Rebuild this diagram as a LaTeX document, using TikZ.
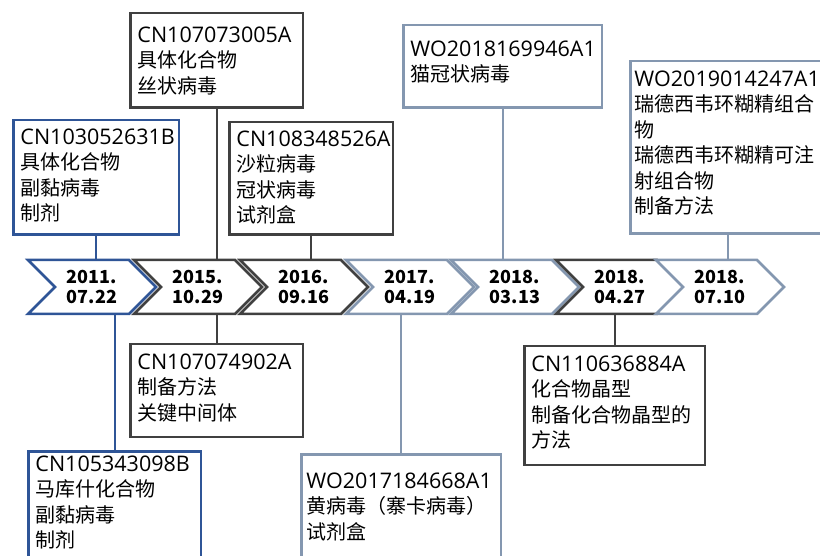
\documentclass[tikz,border=0pt]{standalone}
\usepackage{fontspec}
\newfontfamily\cjk{Noto Sans CJK SC}
\newfontfamily\lat{Open Sans}
\newcommand\pno[1]{{\lat\fontsize{21.5}{25.5}\selectfont #1}}
\usetikzlibrary{shapes.symbols}
\definecolor{pblue}{RGB}{47,85,151}
\definecolor{pdark}{RGB}{64,64,64}
\definecolor{plight}{RGB}{132,151,176}
\begin{document}
\begin{tikzpicture}[x=1pt,y=-1pt,
    chev/.style={signal,signal from=west,signal to=east,signal pointer angle=90,draw=#1,fill=white,line width=2.5pt,minimum width=128pt,minimum height=54pt,inner sep=0pt,align=center,font=\cjk\bfseries\fontsize{18}{20}\selectfont},
    pbox/.style={draw=#1,fill=white,line width=2.5pt,outer sep=0pt,anchor=north west,inner sep=0pt},
    ptxt/.style={anchor=north west,align=left,inner sep=0pt,xshift=7pt,font=\cjk\fontsize{20}{25.5}\selectfont},
    conn/.style={draw=#1,line width=2pt}]
    \useasboundingbox (0,0) rectangle (820,556);
    \clip (0,0) rectangle (820,556);
% time line
    \node[chev=pblue] (d1) at (92,287) {2011.\\07.22};
    \node[chev=pdark] (d2) at (198,287) {2015.\\10.29};
    \node[chev=pdark] (d3) at (304,287) {2016.\\09.16};
    \node[chev=plight] (d4) at (410,287) {2017.\\04.19};
    \node[chev=plight] (d5) at (515,287) {2018.\\03.13};
    \node[chev=pdark] (d6) at (620,287) {2018.\\04.27};
    \node[chev=plight] (d7) at (720,287) {2018.\\07.10};
% patents above
    \node[pbox=pblue,minimum width=165.5pt,minimum height=114.5pt,label={[ptxt,yshift=-8pt]north west:{\pno{CN103052631B}\\具体化合物\\副黏病毒\\制剂}}] (p1) at (13.25,120.25) {};
    \node[pbox=pdark,minimum width=172.5pt,minimum height=94.5pt,label={[ptxt,yshift=-13pt]north west:{\pno{CN107073005A}\\具体化合物\\丝状病毒}}] (p2) at (130.25,13.25) {};
    \node[pbox=pdark,minimum width=163.5pt,minimum height=112.5pt,label={[ptxt,yshift=-8pt]north west:{\pno{CN108348526A}\\沙粒病毒\\冠状病毒\\试剂盒}}] (p3) at (229.25,122.25) {};
    \node[pbox=plight,minimum width=198.5pt,minimum height=82.5pt,label={[ptxt,yshift=-15pt]north west:{\pno{WO2018169946A1}\\猫冠状病毒}}] (p4) at (403.25,25.25) {};
    \node[pbox=plight,minimum width=195.5pt,minimum height=172.5pt,label={[ptxt,xshift=-3pt,yshift=-9pt]north west:{\pno{WO2019014247A1}\\瑞德西韦环糊精组合\\物\\瑞德西韦环糊精可注\\射组合物\\制备方法}}] (p5) at (630.25,61.25) {};
% patents below
    \node[pbox=pblue,minimum width=172.5pt,minimum height=130pt,label={[ptxt,yshift=-4pt]north west:{\pno{CN105343098B}\\马库什化合物\\副黏病毒\\制剂}}] (p6) at (28.25,451.25) {};
    \node[pbox=pdark,minimum width=172.5pt,minimum height=92.5pt,label={[ptxt,yshift=-9pt]north west:{\pno{CN107074902A}\\制备方法\\关键中间体}}] (p7) at (130.25,344.25) {};
    \node[pbox=plight,minimum width=199.5pt,minimum height=130pt,label={[ptxt,xshift=-2pt,yshift=-18pt]north west:{\pno{WO2017184668A1}\\黄病毒（寨卡病毒）\\试剂盒}}] (p8) at (301.25,454.25) {};
    \node[pbox=pdark,minimum width=180.5pt,minimum height=118.5pt,label={[ptxt,yshift=-9pt]north west:{\pno{CN110636884A}\\化合物晶型\\制备化合物晶型的\\方法}}] (p9) at (524.25,346.25) {};
% links
    \draw[conn=pblue](p1.south)--(p1.south|-d1.north);
    \draw[conn=pdark](p2.south)--(p2.south|-d2.north);
    \draw[conn=pdark](p3.south)--(p3.south|-d3.north);
    \draw[conn=plight](p4.south)--(p4.south|-d5.north);
    \draw[conn=plight](p5.south)--(p5.south|-d7.north);
    \draw[conn=pblue](p6.north)--(p6.north|-d1.south);
    \draw[conn=pdark](p7.north)--(p7.north|-d2.south);
    \draw[conn=plight](p8.north)--(p8.north|-d4.south);
    \draw[conn=pdark](p9.north)--(p9.north|-d6.south);
\end{tikzpicture}
\end{document}
